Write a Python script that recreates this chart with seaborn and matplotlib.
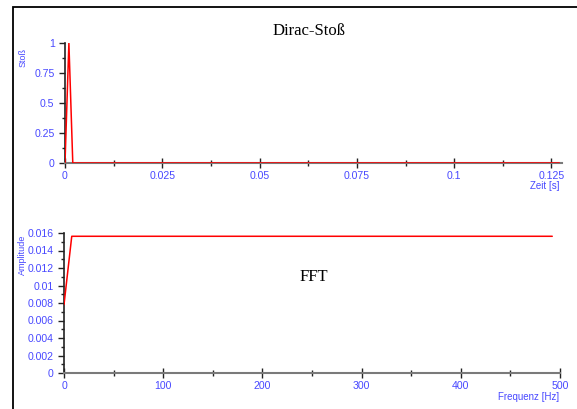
import numpy as np
import pandas as pd
import matplotlib
matplotlib.use("Agg")
import matplotlib.pyplot as plt
from matplotlib.ticker import MultipleLocator, FuncFormatter
from matplotlib.patches import Rectangle
import seaborn as sns

# Impulse: 128 samples at 1 kHz, single unit sample at t = 1 ms
zeit = [i * 0.001 for i in range(128)]
stoss = [0.0, 1.0] + [0.0] * 126

# Magnitude spectrum of the impulse (one-sided, 64 bins of 7.8125 Hz)
frequenz = [i * 7.8125 for i in range(64)]
amplitude = [0.0078125] + [0.015625] * 63

sns.set_theme(style="white")
plt.rcParams["font.family"] = ["Liberation Sans", "DejaVu Sans"]

BLUE = "#4848ff"
SERIF = ["Liberation Serif", "DejaVu Serif"]
fig = plt.figure(figsize=(5.77, 4.09), dpi=100)
fig.patch.set_facecolor("white")

# outer frame
fig.add_artist(Rectangle((13 / 577, -0.05), 1.1, 1 - 7 / 409 + 0.05,
                         transform=fig.transFigure, fill=False,
                         edgecolor="black", linewidth=1.3))

ax1 = fig.add_axes([65 / 577, 1 - 163 / 409, 497 / 577, 120 / 409])
ax2 = fig.add_axes([64 / 577, 1 - 373 / 409, 496 / 577, 140 / 409])

df1 = pd.DataFrame({"Zeit": zeit, "Stoss": stoss})
df2 = pd.DataFrame({"Frequenz": frequenz, "Amplitude": amplitude})

sns.lineplot(data=df1, x="Zeit", y="Stoss", ax=ax1, color="red", linewidth=1.1, zorder=5)
sns.lineplot(data=df2, x="Frequenz", y="Amplitude", ax=ax2, color="red", linewidth=1.1, zorder=5)

ax1.set_xlim(0, 0.1277)
ax1.set_ylim(0, 1)
ax2.set_xlim(0, 500)
ax2.set_ylim(0, 0.016)


def num_fmt(v, pos):
    return f"{v:.6f}".rstrip("0").rstrip(".")


for ax, xmaj, xmin, ymaj, ymin in [
    (ax1, 0.025, 0.0125, 0.25, 0.125),
    (ax2, 100, 50, 0.002, 0.001),
]:
    ax.set_facecolor("none")
    ax.set_xlabel("")
    ax.set_ylabel("")
    for s in ("top", "right"):
        ax.spines[s].set_visible(False)
    ax.spines["left"].set_color("#222222")
    ax.spines["bottom"].set_color("#7a7a7a")
    ax.spines["left"].set_linewidth(1.2)
    ax.spines["bottom"].set_linewidth(1.5)
    ax.xaxis.set_major_locator(MultipleLocator(xmaj))
    ax.xaxis.set_minor_locator(MultipleLocator(xmin))
    ax.yaxis.set_major_locator(MultipleLocator(ymaj))
    ax.yaxis.set_minor_locator(MultipleLocator(ymin))
    ax.xaxis.set_major_formatter(FuncFormatter(num_fmt))
    ax.yaxis.set_major_formatter(FuncFormatter(num_fmt))
    ax.tick_params(which="both", color="#222222", width=1,
                   labelsize=7.6, labelcolor=BLUE, bottom=True, left=True)
    ax.tick_params(axis="x", which="major", direction="inout", length=7, pad=2)
    ax.tick_params(axis="x", which="minor", direction="inout", length=4.5)
    ax.tick_params(axis="y", which="major", direction="out", length=4.5, pad=3)
    ax.tick_params(axis="y", which="minor", direction="out", length=2.5)
    for sp in ax.spines.values():
        sp.set_zorder(1)

ax1.text(0.491, 1.10, "Dirac-Stoß", transform=ax1.transAxes, ha="center", va="center",
         fontsize=12, family=SERIF, color="black")
ax2.text(0.504, 0.686, "FFT", transform=ax2.transAxes, ha="center", va="center",
         fontsize=12, family=SERIF, color="black")

fig.text(23 / 577, 1 - 57 / 409, "Stoß", rotation=90, ha="center", va="center",
         fontsize=6.5, color=BLUE)
fig.text(22 / 577, 1 - 255 / 409, "Amplitude", rotation=90, ha="center", va="center",
         fontsize=6.5, color=BLUE)
fig.text(560 / 577, 1 - 186 / 409, "Zeit [s]", ha="right", va="center",
         fontsize=7, color=BLUE)
fig.text(559 / 577, 1 - 397 / 409, "Frequenz [Hz]", ha="right", va="center",
         fontsize=7, color=BLUE)

fig.savefig("out.png", dpi=100)
